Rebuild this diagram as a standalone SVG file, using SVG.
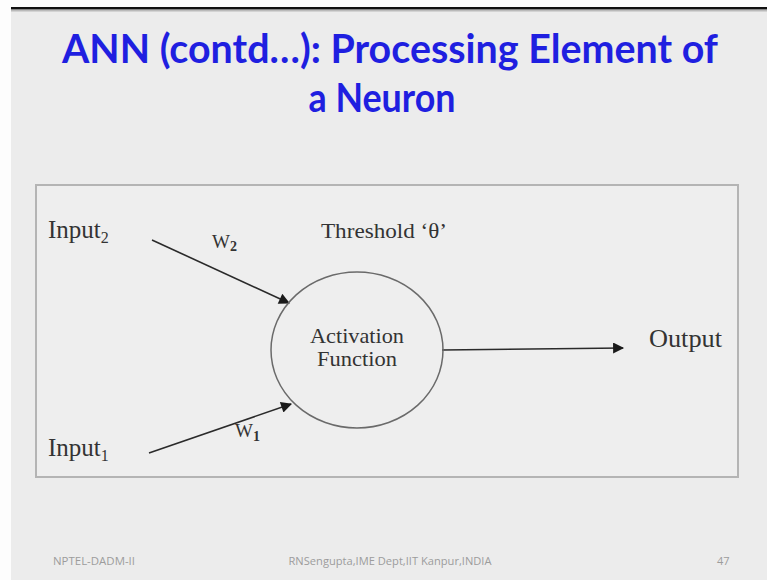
<svg xmlns="http://www.w3.org/2000/svg" width="767" height="580" viewBox="0 0 767 580">
  <style>
    .title { font-family: "Lato", "Open Sans", sans-serif; font-weight: bold; font-size: 40px; fill: #1f1fe0; }
    .lbl { font-family: "Liberation Serif", "Times New Roman", serif; fill: #333; }
    .foot { font-family: "Open Sans", "Liberation Sans", sans-serif; font-size: 11px; fill: #9c9c9c; }
    .wire { stroke: #2a2a2a; stroke-width: 1.6; fill: none; }
  </style>
  <defs>
    <marker id="arrowHead" viewBox="0 0 10 10" refX="9" refY="5" markerWidth="15" markerHeight="11" orient="auto" markerUnits="userSpaceOnUse">
      <path d="M0,0 L10,5 L0,10 z" fill="#1a1a1a"/>
    </marker>
  </defs>

  <!-- page and slide background -->
  <rect x="0" y="0" width="767" height="580" fill="#fdfdfd"/>
  <rect x="11" y="8" width="756" height="572" fill="#ececec"/>
  <rect x="11" y="7" width="756" height="2.5" fill="#111"/>
  <rect x="11" y="9.5" width="756" height="2" fill="#9a9a9a" opacity="0.6"/>

  <!-- title -->
  <g id="title">
    <text class="title" x="390" y="63" text-anchor="middle" textLength="656" lengthAdjust="spacingAndGlyphs">ANN (contd…): Processing Element of</text>
    <text class="title" x="382" y="112" text-anchor="middle" textLength="147" lengthAdjust="spacingAndGlyphs">a Neuron</text>
  </g>

  <!-- diagram frame -->
  <rect x="36" y="185" width="702" height="292" fill="#eeeeee" stroke="#b4b4b4" stroke-width="2"/>

  <!-- connectors -->
  <g id="connectors">
    <line class="wire" x1="152" y1="240" x2="289" y2="303" marker-end="url(#arrowHead)"/>
    <line class="wire" x1="149" y1="453" x2="291" y2="404" marker-end="url(#arrowHead)"/>
    <line class="wire" x1="442" y1="350" x2="623" y2="348" marker-end="url(#arrowHead)"/>
  </g>

  <!-- nodes -->
  <g id="neuron">
    <ellipse cx="357" cy="350" rx="86" ry="78" fill="none" stroke="#6a6a6a" stroke-width="1.5"/>
    <text class="lbl" x="357" y="343" font-size="22" text-anchor="middle" textLength="94" lengthAdjust="spacingAndGlyphs">Activation</text>
    <text class="lbl" x="357" y="366" font-size="22" text-anchor="middle" textLength="80" lengthAdjust="spacingAndGlyphs">Function</text>
  </g>
  <g id="input2">
    <text class="lbl" x="48" y="238" font-size="25">Input<tspan font-size="16" dy="5">2</tspan></text>
  </g>
  <g id="input1">
    <text class="lbl" x="48" y="456" font-size="25">Input<tspan font-size="16" dy="5">1</tspan></text>
  </g>
  <g id="output">
    <text class="lbl" x="649" y="347" font-size="25" textLength="73" lengthAdjust="spacingAndGlyphs">Output</text>
  </g>
  <g id="weights">
    <text class="lbl" x="212" y="248" font-size="19">W<tspan font-size="14" dy="3" font-weight="bold">2</tspan></text>
    <text class="lbl" x="235" y="437" font-size="19">W<tspan font-size="14" dy="4" font-weight="bold">1</tspan></text>
  </g>
  <g id="threshold">
    <text class="lbl" x="321" y="238" font-size="22" textLength="126" lengthAdjust="spacingAndGlyphs">Threshold ‘θ’</text>
  </g>

  <!-- footer -->
  <g id="footer">
    <text class="foot" x="53" y="565" textLength="82" lengthAdjust="spacingAndGlyphs">NPTEL-DADM-II</text>
    <text class="foot" x="390" y="565" text-anchor="middle" textLength="203" lengthAdjust="spacingAndGlyphs">RNSengupta,IME Dept,IIT Kanpur,INDIA</text>
    <text class="foot" x="717" y="565">47</text>
  </g>
</svg>
